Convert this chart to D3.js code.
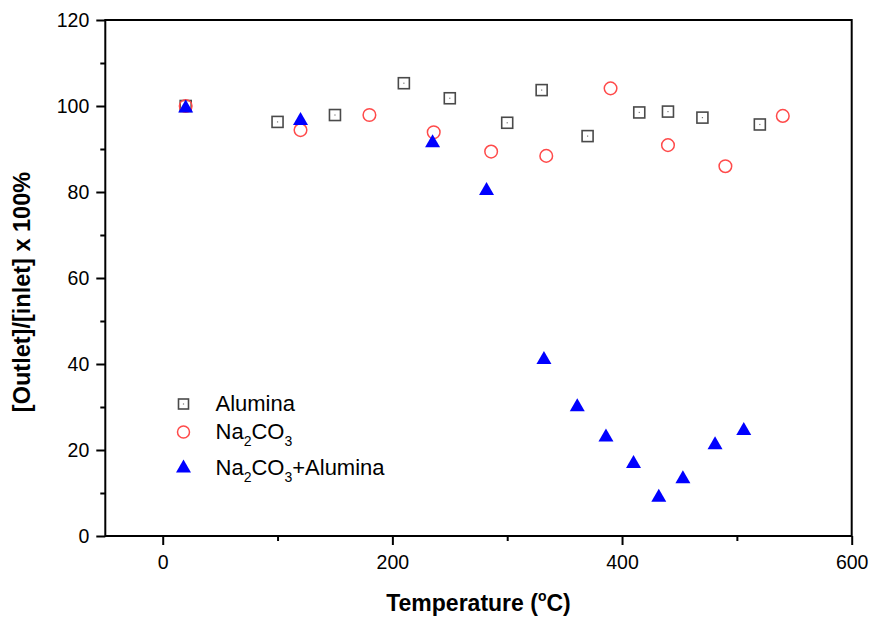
<!DOCTYPE html>
<html>
<head>
<meta charset="utf-8">
<script src="https://cdn.jsdelivr.net/npm/d3@7"></script>
<style>
  body { margin: 0; background: #fff; }
  svg { display: block; }
  text { font-family: "Liberation Sans", Arial, sans-serif; fill: #000; }
</style>
</head>
<body>
<svg id="chart" width="872" height="619"></svg>
<script>
// data
const aluminaTemp = [20, 100, 150, 210, 250, 300, 330, 370, 415, 440, 470, 520];
const aluminaVal  = [100, 96.3, 97.9, 105.3, 101.8, 96.1, 103.7, 93.0, 98.5, 98.7, 97.3, 95.7];

const naTemp = [20, 120, 180, 236, 286, 334, 390, 440, 490, 540];
const naVal  = [100, 94.4, 97.9, 93.9, 89.4, 88.4, 104.1, 90.9, 86.0, 97.7];

const mixTemp = [20, 120, 235, 282, 332, 361, 386, 410, 432, 453, 481, 506];
const mixVal  = [100, 97.1, 91.9, 80.8, 41.5, 30.5, 23.5, 17.3, 9.5, 13.8, 21.7, 25.0];

const xMajor = [0, 200, 400, 600];
const xMinor = [100, 300, 500];
const yMajor = [0, 20, 40, 60, 80, 100, 120];
const yMinor = [10, 30, 50, 70, 90, 110];

const svg = d3.select("#chart");

// plot area
const plotLeft = 105.3, plotRight = 851.7, plotTop = 20, plotBottom = 536;

const x = d3.scaleLinear().domain([-50, 600]).range([plotLeft, plotRight]);
const y = d3.scaleLinear().domain([0, 120]).range([plotBottom, plotTop]);

// axes (major + minor ticks, outside)
const xAxis = svg.append("g").attr("transform", `translate(0,${plotBottom})`)
    .call(d3.axisBottom(x).tickValues(xMajor).tickSize(9).tickSizeOuter(0).tickPadding(10));
const xAxisMinor = svg.append("g").attr("transform", `translate(0,${plotBottom})`)
    .call(d3.axisBottom(x).tickValues(xMinor).tickSize(5).tickFormat(""));
const yAxis = svg.append("g").attr("transform", `translate(${plotLeft},0)`)
    .call(d3.axisLeft(y).tickValues(yMajor).tickSize(9).tickSizeOuter(0).tickPadding(7));
const yAxisMinor = svg.append("g").attr("transform", `translate(${plotLeft},0)`)
    .call(d3.axisLeft(y).tickValues(yMinor).tickSize(5).tickFormat(""));

[xAxis, xAxisMinor, yAxis, yAxisMinor].forEach(a => {
    a.select(".domain").remove();
    a.selectAll(".tick line").attr("stroke", "#000").attr("stroke-width", 2);
    a.selectAll(".tick text").attr("font-size", 19.5).attr("font-family", '"Liberation Sans", Arial, sans-serif');
});

// frame
svg.append("rect")
    .attr("x", plotLeft).attr("y", plotTop)
    .attr("width", plotRight - plotLeft).attr("height", plotBottom - plotTop)
    .attr("fill", "none").attr("stroke", "#000").attr("stroke-width", 2);

// axis titles
const xt = svg.append("text")
    .attr("x", (plotLeft + plotRight) / 2).attr("y", 611)
    .attr("text-anchor", "middle")
    .attr("font-size", 23).attr("font-weight", "bold");
xt.append("tspan").text("Temperature (");
xt.append("tspan").text("o").attr("font-size", 14).attr("dy", -10);
xt.append("tspan").text("C)").attr("dy", 10);

svg.append("text")
    .attr("transform", "translate(22,292) rotate(-90)")
    .attr("text-anchor", "middle").attr("dy", "0.35em")
    .attr("font-size", 23.5).attr("font-weight", "bold")
    .text("[Outlet]/[inlet] x 100%");

// marker drawing helpers
const triPath = (w, h) => `M0,${-h / 2}L${w / 2},${h / 2}L${-w / 2},${h / 2}Z`;

function drawSquare(g, s) {
    g.append("rect").attr("x", -s / 2).attr("y", -s / 2).attr("width", s).attr("height", s)
        .attr("fill", "none").attr("stroke", "#4a4a4a").attr("stroke-width", 1.6);
    g.append("rect").attr("x", -0.6).attr("y", -0.6).attr("width", 1.2).attr("height", 1.2)
        .attr("fill", "#777");
}
function drawCircle(g, r) {
    g.append("circle").attr("r", r)
        .attr("fill", "none").attr("stroke", "#ff4a4a").attr("stroke-width", 1.5);
}
function drawTri(g, w, h) {
    g.append("path").attr("d", triPath(w, h)).attr("fill", "#0000ff");
}

const pts = svg.append("g");

const alumina = aluminaTemp.map((t, i) => ({ t, v: aluminaVal[i] }));
const na = naTemp.map((t, i) => ({ t, v: naVal[i] }));
const mix = mixTemp.map((t, i) => ({ t, v: mixVal[i] }));

pts.selectAll(".sq").data(alumina).enter().append("g")
    .attr("transform", d => `translate(${x(d.t)},${y(d.v)})`)
    .each(function() { drawSquare(d3.select(this), 11); });

pts.selectAll(".ci").data(na).enter().append("g")
    .attr("transform", d => `translate(${x(d.t)},${y(d.v)})`)
    .each(function() { drawCircle(d3.select(this), 6.3); });

pts.selectAll(".tr").data(mix).enter().append("g")
    .attr("transform", d => `translate(${x(d.t)},${y(d.v)})`)
    .each(function() { drawTri(d3.select(this), 15, 13); });

// legend
const legX = 183.5, legTextX = 215.5;
const lg = svg.append("g");

drawSquare(lg.append("g").attr("transform", `translate(${legX},404)`), 10);
drawCircle(lg.append("g").attr("transform", `translate(${legX},432)`), 6);
drawTri(lg.append("g").attr("transform", `translate(${legX},466)`), 15, 13);

lg.append("text").attr("x", legTextX).attr("y", 411).attr("font-size", 22).text("Alumina");

function naLabel(yPos, extra) {
    const t = lg.append("text").attr("x", legTextX).attr("y", yPos).attr("font-size", 22);
    t.append("tspan").text("Na");
    t.append("tspan").text("2").attr("font-size", 14).attr("dy", 7);
    t.append("tspan").text("CO").attr("dy", -7);
    t.append("tspan").text("3").attr("font-size", 14).attr("dy", 7);
    if (extra) t.append("tspan").text(extra).attr("dy", -7);
}
naLabel(438.5);
naLabel(474.5, "+Alumina");
</script>
</body>
</html>
